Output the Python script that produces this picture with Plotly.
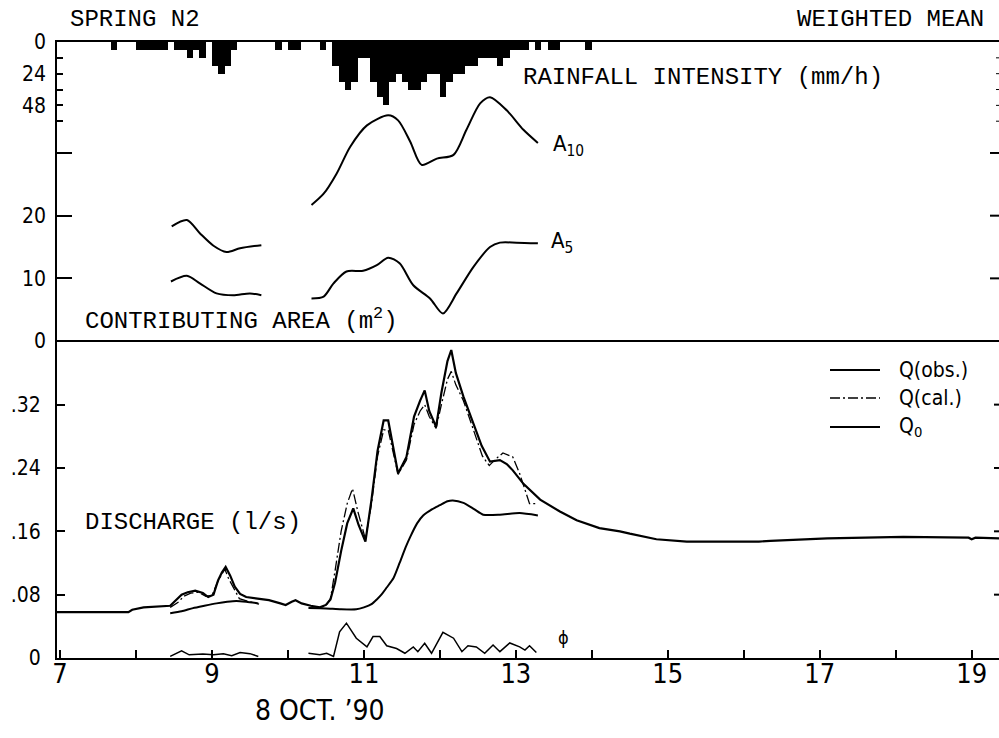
import plotly.graph_objects as go

# ---------------- data ----------------
# rainfall intensity, 5-minute bins (bin start time, mm/h)
rain_start = ["07:40",
              "08:00", "08:05", "08:10", "08:15", "08:20",
              "08:30", "08:35", "08:40", "08:45", "08:50",
              "09:00", "09:05", "09:10", "09:15",
              "09:50", "10:00", "10:05", "10:25",
              "10:35", "10:40", "10:45", "10:50", "10:55", "11:00", "11:05", "11:10",
              "11:15", "11:20", "11:25", "11:30", "11:35", "11:40", "11:45", "11:50",
              "11:55", "12:00", "12:05", "12:10", "12:15", "12:20", "12:25", "12:30",
              "12:35", "12:40", "12:45", "12:50", "12:55", "13:00", "13:05", "13:15",
              "13:25", "13:30", "13:55"]
rain_mmh = [6,
            6, 6, 6, 6, 6,
            6, 6, 12, 6, 12,
            18, 24, 18, 6,
            6, 6, 6, 6,
            18, 30, 36, 30, 12, 12, 30, 42,
            48, 30, 24, 30, 36, 36, 30, 24,
            24, 42, 30, 24, 24, 18, 18, 12,
            12, 12, 18, 12, 6, 6, 6, 6,
            6, 6, 6]

# contributing area (m2); None separates the two computed periods
a10_t = [8.47, 8.67, 8.84, 9.02, 9.19, 9.37, 9.65, None,
         10.31, 10.47, 10.64, 10.82, 11.04, 11.32, 11.45, 11.61, 11.76, 11.96,
         12.18, 12.35, 12.53, 12.66, 12.88, 13.10, 13.29]
a10_v = [18.3, 19.3, 17.2, 15.2, 14.2, 14.8, 15.3, None,
         21.7, 23.5, 26.7, 31.0, 34.4, 36.0, 35.2, 31.8, 28.1, 29.1,
         29.7, 33.7, 37.9, 38.9, 36.8, 33.7, 31.6]
a5_t = [8.46, 8.67, 8.84, 9.06, 9.28, 9.50, 9.65, None,
        10.31, 10.47, 10.60, 10.77, 10.99, 11.17, 11.32, 11.47, 11.65, 11.87,
        12.04, 12.22, 12.44, 12.66, 12.79, 13.01, 13.29]
a5_v = [9.5, 10.4, 9.2, 7.6, 7.3, 7.6, 7.3, None,
        6.8, 7.1, 9.2, 11.1, 11.2, 12.1, 13.3, 12.4, 8.9, 6.8,
        4.4, 7.6, 11.8, 15.0, 15.7, 15.7, 15.6]

# observed discharge (l/s)
qobs_t = [6.96, 7.90, 7.95, 8.10, 8.45, 8.52, 8.60, 8.68, 8.78, 8.88, 8.95, 9.02,
          9.08, 9.13, 9.18, 9.24, 9.30, 9.37, 9.45, 9.60, 9.75, 9.90, 9.97, 10.05,
          10.10, 10.18, 10.30, 10.42, 10.50, 10.56, 10.62, 10.70, 10.78, 10.86,
          10.93, 11.02, 11.10, 11.18, 11.26, 11.32, 11.38, 11.45, 11.56, 11.66,
          11.74, 11.80, 11.86, 11.95, 12.02, 12.10, 12.15, 12.21, 12.31, 12.44,
          12.55, 12.66, 12.79, 12.88, 12.96, 13.10, 13.32, 13.58, 13.80, 14.10,
          14.37, 14.50, 14.85, 15.25, 16.20, 16.35, 17.10, 18.10, 18.96, 19.00,
          19.05, 19.36]
qobs_v = [0.058, 0.058, 0.061, 0.064, 0.066, 0.072, 0.080, 0.083, 0.085, 0.082, 0.077, 0.080,
          0.098, 0.108, 0.115, 0.104, 0.090, 0.081, 0.077, 0.075, 0.073, 0.069, 0.067, 0.071,
          0.073, 0.069, 0.066, 0.064, 0.067, 0.074, 0.095, 0.135, 0.170, 0.189,
          0.168, 0.147, 0.200, 0.262, 0.300, 0.300, 0.268, 0.233, 0.254, 0.305,
          0.325, 0.338, 0.312, 0.292, 0.335, 0.375, 0.389, 0.360, 0.330, 0.296,
          0.268, 0.248, 0.250, 0.245, 0.237, 0.220, 0.200, 0.185, 0.174, 0.164,
          0.160, 0.157, 0.150, 0.147, 0.147, 0.148, 0.151, 0.153, 0.152, 0.150,
          0.152, 0.151]

# calculated discharge (l/s)
qcal_t = [8.45, 8.55, 8.63, 8.72, 8.82, 8.92, 9.00, 9.07, 9.13, 9.17, 9.22, 9.30,
          9.36, 9.50, 9.62, None,
          10.28, 10.40, 10.50, 10.56, 10.62, 10.70, 10.78, 10.85, 10.92, 11.02,
          11.10, 11.18, 11.26, 11.32, 11.38, 11.45, 11.56, 11.66, 11.74, 11.80,
          11.86, 11.95, 12.02, 12.10, 12.15, 12.21, 12.31, 12.44, 12.56, 12.65,
          12.72, 12.83, 12.96, 13.05, 13.18, 13.29]
qcal_v = [0.064, 0.070, 0.078, 0.082, 0.083, 0.078, 0.079, 0.095, 0.106, 0.112, 0.100, 0.085,
          0.075, 0.071, 0.068, None,
          0.063, 0.063, 0.066, 0.075, 0.110, 0.160, 0.195, 0.214, 0.185, 0.150,
          0.195, 0.255, 0.288, 0.288, 0.262, 0.232, 0.250, 0.295, 0.312, 0.320,
          0.305, 0.290, 0.320, 0.352, 0.362, 0.345, 0.325, 0.290, 0.255, 0.243,
          0.250, 0.259, 0.254, 0.233, 0.195, 0.195]

# base flow Q0 (l/s)
q0_t = [8.45, 8.60, 8.75, 8.90, 9.06, 9.20, 9.32, 9.45, 9.61, None,
        10.27, 10.50, 10.70, 10.90, 11.00, 11.10, 11.17, 11.23, 11.30, 11.39,
        11.47, 11.55, 11.61, 11.70, 11.78, 11.90, 12.00, 12.10, 12.17, 12.31,
        12.45, 12.57, 12.79, 13.05, 13.29]
q0_v = [0.0565, 0.059, 0.063, 0.066, 0.069, 0.071, 0.072, 0.071, 0.069, None,
        0.063, 0.0625, 0.0615, 0.0615, 0.064, 0.068, 0.074, 0.080, 0.089, 0.101,
        0.120, 0.140, 0.153, 0.170, 0.180, 0.188, 0.193, 0.198, 0.199, 0.196,
        0.188, 0.181, 0.181, 0.183, 0.180]

# phi
phi_t = [8.45, 8.60, 8.70, 8.88, 9.02, 9.15, 9.26, 9.37, 9.50, 9.61, None,
         10.27, 10.42, 10.51, 10.60, 10.68, 10.77, 10.90, 11.04, 11.12, 11.21,
         11.30, 11.43, 11.54, 11.65, 11.71, 11.80, 11.89, 12.04, 12.18, 12.29,
         12.37, 12.48, 12.59, 12.70, 12.79, 12.92, 13.05, 13.12, 13.18, 13.27]
phi_v = [0.002, 0.009, 0.004, 0.005, 0.004, 0.0055, 0.003, 0.007, 0.0055, 0.002, None,
         0.006, 0.004, 0.006, 0.002, 0.033, 0.044, 0.025, 0.014, 0.027, 0.027,
         0.0155, 0.012, 0.006, 0.014, 0.008, 0.0185, 0.006, 0.0325, 0.025, 0.008,
         0.0155, 0.014, 0.006, 0.0165, 0.008, 0.019, 0.014, 0.010, 0.0155, 0.007]

hour_labels = [7, 9, 11, 13, 15, 17, 19]
hour_minor = [8, 10, 12, 14, 16, 18]
q_ticks = [0, 0.08, 0.16, 0.24, 0.32]
q_labels = ["0", ".08", ".16", ".24", ".32"]
area_ticks = [0, 10, 20]
area_minor = [30]
rain_ticks = [0, 24, 48]
rain_minor = [12, 36, 60]

# ---------------- layout geometry ----------------
W, H = 999, 738
ML, MR, MT, MB = 57, 0, 42, 80
PW, PH = W - ML - MR, H - MT - MB

MONO = "Liberation Mono, Courier New, monospace"
NARROW = "Liberation Sans Narrow, DejaVu Sans Condensed, Arial Narrow, Liberation Sans, sans-serif"


def px(x):
    return (x - ML) / PW


def py(y):
    return (H - MB - y) / PH


def to_hours(t):
    h, m = t.split(":")
    return int(h) + int(m) / 60.0


BIN = 5 / 60.0
rain_x = [to_hours(t) + BIN / 2 for t in rain_start]

fig = go.Figure()

fig.add_trace(go.Bar(x=rain_x, y=rain_mmh, width=BIN, yaxis="y3",
                     marker=dict(color="black", line=dict(width=0))))

for tt, vv in ((a10_t, a10_v), (a5_t, a5_v)):
    fig.add_trace(go.Scatter(x=tt, y=vv, yaxis="y2", mode="lines",
                             line=dict(color="black", width=2, shape="spline", smoothing=0.8),
                             connectgaps=False))

fig.add_trace(go.Scatter(x=q0_t, y=q0_v, yaxis="y", mode="lines",
                         line=dict(color="black", width=2, shape="spline", smoothing=0.6),
                         connectgaps=False))
fig.add_trace(go.Scatter(x=qcal_t, y=qcal_v, yaxis="y", mode="lines",
                         line=dict(color="black", width=1.3, dash="10px,3px,2px,3px"),
                         connectgaps=False))
fig.add_trace(go.Scatter(x=qobs_t, y=qobs_v, yaxis="y", mode="lines",
                         line=dict(color="black", width=2.2)))
fig.add_trace(go.Scatter(x=phi_t, y=phi_v, yaxis="y", mode="lines",
                         line=dict(color="black", width=1.5), connectgaps=False))

tickfont = dict(family=NARROW, size=21, color="black")

fig.update_layout(
    width=W, height=H,
    margin=dict(l=ML, r=MR, t=MT, b=MB, pad=0),
    paper_bgcolor="white", plot_bgcolor="white",
    showlegend=False, bargap=0,
    xaxis=dict(range=[6.96, 19.36], tickmode="array", tickvals=hour_labels,
               ticktext=[str(h) for h in hour_labels],
               ticks="inside", ticklen=8, tickwidth=2, tickcolor="black",
               minor=dict(tickmode="array", tickvals=hour_minor, ticks="inside",
                          ticklen=8, tickwidth=2, tickcolor="black", showgrid=False),
               showline=True, linewidth=2, linecolor="black", mirror=True,
               showgrid=False, zeroline=False,
               tickfont=dict(family=NARROW, size=27, color="black"),
               ticklabelstandoff=-9),
    yaxis=dict(domain=[0, 1], range=[0, 0.778], tickmode="array",
               tickvals=q_ticks, ticktext=q_labels,
               ticks="inside", ticklen=8, tickwidth=2, tickcolor="black",
               showline=True, linewidth=2, linecolor="black",
               showgrid=False, zeroline=False, tickfont=tickfont,
               ticklabelstandoff=10),
    yaxis2=dict(overlaying="y", side="left", anchor="x", range=[-50.55, 47.7],
                tickmode="array", tickvals=area_ticks,
                ticktext=[str(v) for v in area_ticks],
                ticks="inside", ticklen=15, tickwidth=2, tickcolor="black",
                minor=dict(tickmode="array", tickvals=area_minor, ticks="inside",
                           ticklen=15, tickwidth=2, tickcolor="black", showgrid=False),
                showline=False, showgrid=False,
                zeroline=True, zerolinewidth=2, zerolinecolor="black",
                tickfont=tickfont, ticklabelstandoff=10),
    yaxis3=dict(overlaying="y", side="left", anchor="x", range=[466.7, 0],
                tickmode="array", tickvals=rain_ticks,
                ticktext=[str(v) for v in rain_ticks],
                ticks="inside", ticklen=6, tickwidth=2, tickcolor="black",
                minor=dict(tickmode="array", tickvals=rain_minor, ticks="inside",
                           ticklen=6, tickwidth=2, tickcolor="black", showgrid=False),
                showline=False, showgrid=False, zeroline=False,
                tickfont=tickfont, ticklabelstandoff=10),
)

# tick marks along the right edge
shapes = []
for v in area_ticks[1:] + area_minor:
    shapes.append(dict(type="line", xref="paper", yref="y2", x0=1 - 9 / PW, x1=1,
                       y0=v, y1=v, line=dict(color="black", width=2)))
for v in q_ticks[1:]:
    shapes.append(dict(type="line", xref="paper", yref="y", x0=1 - 5 / PW, x1=1,
                       y0=v, y1=v, line=dict(color="black", width=2)))
for v in sorted(rain_ticks[1:] + rain_minor):
    shapes.append(dict(type="line", xref="paper", yref="y3", x0=1 - 3 / PW, x1=1,
                       y0=v, y1=v, line=dict(color="black", width=1)))

# legend samples
legend_rows = [("Q(obs.)", 370, dict(color="black", width=2.2)),
               ("Q(cal.)", 398, dict(color="black", width=1.3, dash="10px,3px,2px,3px")),
               ("Q<sub>0</sub>", 427, dict(color="black", width=2.2))]
annotations = []
for label, yy, ln in legend_rows:
    shapes.append(dict(type="line", xref="paper", yref="paper", x0=px(830), x1=px(880),
                       y0=py(yy), y1=py(yy), line=ln))
    annotations.append(dict(text=label, x=px(897), y=py(yy), xref="paper", yref="paper",
                            xanchor="left", yanchor="middle", showarrow=False,
                            font=dict(family=NARROW, size=21, color="black")))


def label(text, x, y, anchor="left", font=MONO, size=24):
    annotations.append(dict(text=text, x=px(x), y=py(y), xref="paper", yref="paper",
                            xanchor=anchor, yanchor="middle", showarrow=False,
                            font=dict(family=font, size=size, color="black")))


label("SPRING N2", 68, 20)
label("WEIGHTED MEAN", 986, 20, anchor="right")
label("RAINFALL INTENSITY (mm/h)", 521, 78)
label("CONTRIBUTING AREA (m<sup>2</sup>)", 83, 319)
label("DISCHARGE (l/s)", 83, 522)
label("8 OCT. \u201990", 320, 710, anchor="center", font=NARROW, size=28)
label("A<sub>10</sub>", 551, 145, font=NARROW, size=22)
label("A<sub>5</sub>", 549, 242, font=NARROW, size=22)
label("\u03d5", 556, 637, font=NARROW, size=18)

fig.update_layout(shapes=shapes, annotations=annotations)

fig.write_html("out.html")
